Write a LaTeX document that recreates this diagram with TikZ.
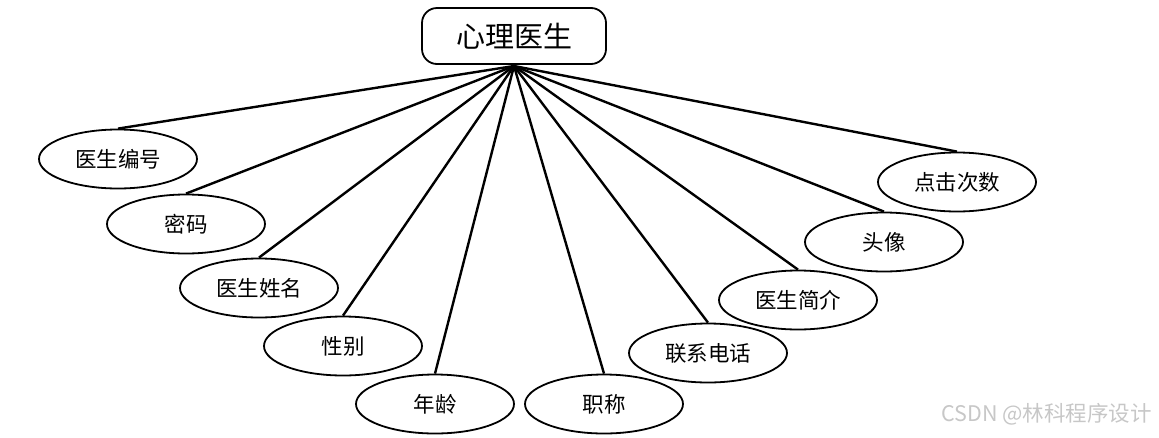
\documentclass[tikz,border=0pt]{standalone}
\usepackage{fontspec}
\newfontfamily\cjk{Noto Sans CJK SC}
\usetikzlibrary{shapes.geometric}
\begin{document}
\begin{tikzpicture}[x=1pt,y=-1pt,
  attr/.style={ellipse,draw,line width=1.8pt,minimum width=158pt,minimum height=59pt,inner sep=0pt,font=\cjk\fontsize{21.5}{21.5}\selectfont},
  ent/.style={rectangle,rounded corners=15pt,draw,line width=1.8pt,minimum width=184pt,minimum height=56pt,font=\cjk\fontsize{29}{29}\selectfont},
  link/.style={line width=2.4pt}]
\useasboundingbox (0,0) rectangle (1159,437);
\node[ent] (e) at (514,36) {心理医生};
\coordinate (hub) at (514,66);
\node[attr] (a1) at (118,159) {医生编号};
\node[attr] (a2) at (186,224) {密码};
\node[attr] (a3) at (259,288) {医生姓名};
\node[attr] (a4) at (343,346) {性别};
\node[attr] (a5) at (435,404) {年龄};
\node[attr] (a6) at (604,404) {职称};
\node[attr] (a7) at (708,353) {联系电话};
\node[attr] (a8) at (798,300) {医生简介};
\node[attr] (a9) at (884,242) {头像};
\node[attr] (a10) at (957,182) {点击次数};
\foreach \n in {a1,a2,a3,a4,a5,a6,a7,a8,a9,a10}
  \draw[link] (hub) -- (\n.north);
\node[anchor=east,text=black!22,font=\cjk\fontsize{21.5}{21.5}\selectfont,inner sep=0pt] (wm) at (1152,414) {CSDN @林科程序设计};
\end{tikzpicture}
\end{document}
